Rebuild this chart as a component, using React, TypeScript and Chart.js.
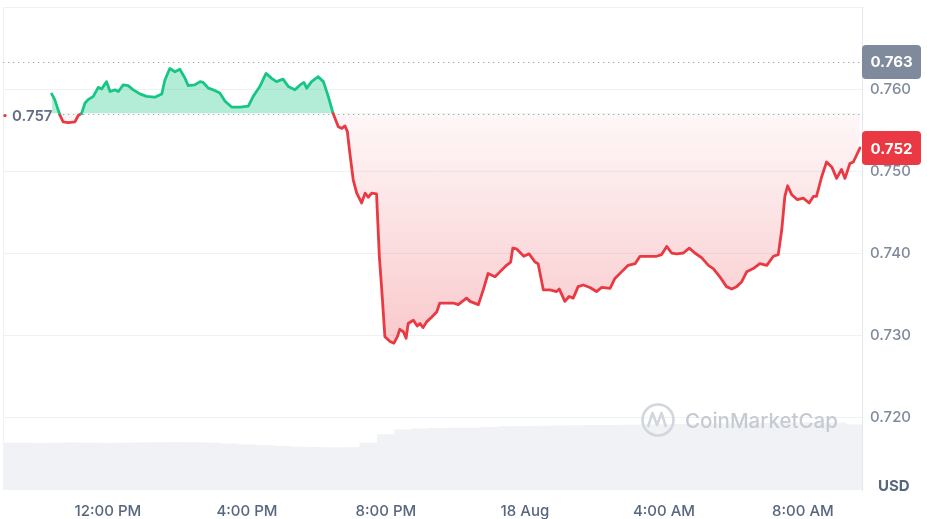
import React, { useEffect, useRef } from "react";
import { Chart, registerables } from "chart.js";

Chart.register(...registerables);

// price reference levels
const openPrice = 0.757;
const refPrice = 0.7633;

// hours since 17 Aug 00:00
const priceHours = [
  10.38, 10.47, 10.57, 10.62, 10.71, 10.86, 11.05, 11.15, 11.24, 11.34, 11.43, 11.58, 11.72, 11.82, 11.96,
  12.06, 12.2, 12.3, 12.44, 12.58, 12.73, 12.92, 13.11, 13.35, 13.55, 13.64, 13.78, 13.93, 14.07, 14.22,
  14.31, 14.5, 14.65, 14.74, 14.89, 15.03, 15.22, 15.37, 15.56, 15.8, 16.04, 16.18, 16.37, 16.55, 16.71,
  16.85, 17.04, 17.19, 17.38, 17.53, 17.64, 17.72, 17.86, 18.05, 18.2, 18.34, 18.48, 18.63, 18.73, 18.82,
  18.89, 18.96, 19.06, 19.16, 19.3, 19.4, 19.49, 19.59, 19.73, 19.81, 19.88, 19.97, 20.12, 20.23, 20.33,
  20.4, 20.5, 20.58, 20.64, 20.79, 20.9, 20.98, 21.07, 21.17, 21.32, 21.46, 21.55, 21.75, 21.94, 22.08,
  22.32, 22.42, 22.66, 22.8, 22.94, 23.14, 23.28, 23.47, 23.59, 23.65, 23.76, 23.97, 24.12, 24.29, 24.38,
  24.53, 24.72, 24.91, 24.99, 25.15, 25.27, 25.39, 25.53, 25.68, 25.87, 26.06, 26.21, 26.45, 26.59, 26.78,
  26.97, 27.17, 27.31, 27.5, 27.65, 27.79, 27.93, 28.08, 28.22, 28.37, 28.56, 28.73, 28.89, 29.09, 29.28,
  29.42, 29.61, 29.8, 29.95, 30.09, 30.24, 30.38, 30.57, 30.76, 30.96, 31.15, 31.29, 31.39, 31.48, 31.56,
  31.68, 31.84, 32.01, 32.18, 32.3, 32.39, 32.54, 32.68, 32.83, 32.97, 33.11, 33.21, 33.35, 33.45, 33.64,
];
const prices = [
  0.7594, 0.7587, 0.7574, 0.7568, 0.756, 0.7559, 0.756, 0.7568, 0.757, 0.7583, 0.7587, 0.7591, 0.7602, 0.76, 0.7609,
  0.7597, 0.7599, 0.7597, 0.7605, 0.7604, 0.7599, 0.7594, 0.7591, 0.759, 0.7594, 0.7611, 0.7625, 0.7621, 0.7624, 0.7613,
  0.7604, 0.7605, 0.7609, 0.7608, 0.7601, 0.7599, 0.7595, 0.7585, 0.7578, 0.7578, 0.7579, 0.7591, 0.7603, 0.7619, 0.7613,
  0.7609, 0.7612, 0.7603, 0.7599, 0.7605, 0.7608, 0.7601, 0.7609, 0.7615, 0.7609, 0.7591, 0.757, 0.7554, 0.7552, 0.7555,
  0.7548, 0.7522, 0.7489, 0.7473, 0.7461, 0.7473, 0.7468, 0.7473, 0.7472, 0.7396, 0.7355, 0.7298, 0.7292, 0.729, 0.7298,
  0.7307, 0.7304, 0.7296, 0.7314, 0.7318, 0.7311, 0.7314, 0.7309, 0.7316, 0.7322, 0.7328, 0.7339, 0.7339, 0.7339, 0.7337,
  0.7345, 0.7341, 0.7337, 0.7355, 0.7375, 0.7371, 0.7377, 0.7385, 0.7389, 0.7406, 0.7405, 0.7396, 0.7399, 0.7389, 0.7387,
  0.7355, 0.7355, 0.7353, 0.7356, 0.7341, 0.7347, 0.7345, 0.7359, 0.7361, 0.7358, 0.7353, 0.7358, 0.7357, 0.7369, 0.7377,
  0.7385, 0.7387, 0.7396, 0.7396, 0.7396, 0.7396, 0.7398, 0.7408, 0.74, 0.7399, 0.74, 0.7406, 0.74, 0.7394, 0.7385,
  0.7381, 0.7371, 0.7359, 0.7356, 0.7359, 0.7365, 0.7377, 0.7381, 0.7387, 0.7385, 0.7396, 0.7398, 0.7428, 0.7469, 0.7482,
  0.7471, 0.7465, 0.7467, 0.7461, 0.7469, 0.7469, 0.7493, 0.7511, 0.7505, 0.7491, 0.7502, 0.7491, 0.7509, 0.7511, 0.7528,
];

// 24h volume (millions USD), half-hour bars
const volumeHours = [
  9, 9.5, 10, 10.5, 11, 11.5, 12, 12.5, 13, 13.5, 14, 14.5, 15, 15.5, 16, 16.5, 17, 17.5, 18, 18.5, 19, 19.5, 20, 20.5, 21,
  21.5, 22, 22.5, 23, 23.5, 24, 24.5, 25, 25.5, 26, 26.5, 27, 27.5, 28, 28.5, 29, 29.5, 30, 30.5, 31, 31.5, 32, 32.5, 33, 33.5,
];
const volumes = [
  38.9, 39.0, 38.8, 38.9, 39.1, 39.0, 38.8, 39.0, 39.2, 39.3, 39.5, 39.3, 39.0, 38.2, 37.5, 37.0, 36.2, 35.6, 35.3, 35.0,
  35.2, 39.0, 46.0, 49.8, 50.6, 51.0, 51.2, 51.3, 52.0, 52.6, 52.8, 53.0, 53.2, 53.3, 53.5, 53.6, 53.8, 54.0, 54.2, 54.3,
  54.6, 54.8, 55.0, 55.2, 55.3, 55.5, 55.6, 55.5, 55.4, 54.0,
];

const tickHours = [12, 16, 20, 24, 28, 32];
const tickLabels = ["12:00 PM", "4:00 PM", "8:00 PM", "18 Aug", "4:00 AM", "8:00 AM"];
const priceTicks = [0.72, 0.73, 0.74, 0.75, 0.76];
const priceMin = 0.7111;
const priceMax = 0.77;

const GREEN = "#16c784";
const RED = "#ea3943";
const FONT = "Inter, 'Noto Sans', sans-serif";

const badge = (ctx: CanvasRenderingContext2D, x: number, y: number, text: string, color: string) => {
  const w = 59;
  const h = 34;
  ctx.save();
  ctx.fillStyle = color;
  ctx.beginPath();
  ctx.roundRect(x, y - h / 2, w, h, 4);
  ctx.fill();
  ctx.fillStyle = "#fff";
  ctx.font = `700 15px ${FONT}`;
  ctx.textAlign = "center";
  ctx.textBaseline = "middle";
  ctx.fillText(text, x + w / 2, y + 1);
  ctx.restore();
};

const overlay = {
  id: "overlay",
  beforeDatasetsDraw(chart: any) {
    const { ctx, chartArea, scales } = chart;
    ctx.save();
    // frame: top and left edges
    ctx.strokeStyle = "#eff2f5";
    ctx.lineWidth = 1;
    ctx.beginPath();
    ctx.moveTo(chartArea.left + 0.5, chartArea.bottom);
    ctx.lineTo(chartArea.left + 0.5, chartArea.top + 0.5);
    ctx.lineTo(chartArea.right, chartArea.top + 0.5);
    ctx.stroke();
    // dotted reference lines
    ctx.strokeStyle = "#9ea7b6";
    ctx.lineWidth = 1.2;
    ctx.setLineDash([1.3, 3.7]);
    const yRef = Math.round(scales.y.getPixelForValue(refPrice)) + 0.5;
    ctx.beginPath();
    ctx.moveTo(chartArea.left, yRef);
    ctx.lineTo(chartArea.right, yRef);
    ctx.stroke();
    const yOpen = Math.round(scales.y.getPixelForValue(openPrice)) + 0.5;
    ctx.beginPath();
    ctx.moveTo(58, yOpen);
    ctx.lineTo(chartArea.right, yOpen);
    ctx.stroke();
    ctx.restore();
  },
  afterDatasetsDraw(chart: any) {
    const { ctx } = chart;
    ctx.save();
    // watermark
    ctx.strokeStyle = "#d2d6dd";
    ctx.lineWidth = 2.6;
    ctx.beginPath();
    ctx.arc(658, 420, 15.5, 0, Math.PI * 2);
    ctx.stroke();
    ctx.lineJoin = "round";
    ctx.beginPath();
    ctx.moveTo(648, 427);
    ctx.lineTo(652.5, 413);
    ctx.lineTo(657, 425);
    ctx.lineTo(661.5, 413);
    ctx.lineTo(666, 427);
    ctx.stroke();
    ctx.fillStyle = "#c6cbd3";
    ctx.font = `500 20.5px ${FONT}`;
    ctx.textAlign = "left";
    ctx.textBaseline = "middle";
    ctx.fillText("CoinMarketCap", 685, 422);
    ctx.restore();
  },
  afterDraw(chart: any) {
    const { ctx, chartArea, scales } = chart;
    const y = scales.y;
    ctx.save();
    // open price label
    const yOpen = y.getPixelForValue(openPrice);
    ctx.fillStyle = RED;
    ctx.beginPath();
    ctx.arc(5, yOpen + 2, 1.7, 0, Math.PI * 2);
    ctx.fill();
    ctx.fillStyle = "#616e85";
    ctx.font = `600 15px ${FONT}`;
    ctx.textAlign = "left";
    ctx.textBaseline = "middle";
    ctx.fillText(openPrice.toFixed(3), 12, yOpen + 2.5);
    // currency
    ctx.fillStyle = "#58667e";
    ctx.font = `700 15px ${FONT}`;
    ctx.fillText("USD", 878, 486);
    ctx.restore();
    const last = prices[prices.length - 1];
    badge(ctx, chartArea.right, y.getPixelForValue(refPrice), refPrice.toFixed(3), "#808a9d");
    badge(ctx, chartArea.right, y.getPixelForValue(last), (Math.floor(last * 1000) / 1000).toFixed(3), RED);
  },
};

const noPadding = (s: any) => {
  s.paddingTop = 0;
  s.paddingBottom = 0;
  s.paddingLeft = 0;
  s.paddingRight = 0;
};

const App = () => {
  const canvasRef = useRef<HTMLCanvasElement>(null);

  useEffect(() => {
    const lowest = Math.min(...prices);
    const chart = new Chart(canvasRef.current!, {
      type: "line",
      data: {
        datasets: [
          {
            type: "line",
            data: priceHours.map((h, i) => ({ x: h, y: prices[i] })),
            yAxisID: "y",
            order: 0,
            borderWidth: 2.8,
            borderJoinStyle: "round",
            borderCapStyle: "round",
            pointRadius: 0,
            tension: 0,
            borderColor: RED,
            segment: {
              borderColor: (s: any) => ((s.p0.parsed.y + s.p1.parsed.y) / 2 >= openPrice ? GREEN : RED),
            },
            fill: { value: openPrice, above: "rgba(22,199,132,0.32)" },
            backgroundColor: (c: any) => {
              const { chart: ch } = c;
              if (!ch.chartArea || !ch.scales.y) return "rgba(234,57,67,0.1)";
              const g = ch.ctx.createLinearGradient(
                0,
                ch.scales.y.getPixelForValue(openPrice),
                0,
                ch.scales.y.getPixelForValue(lowest)
              );
              g.addColorStop(0, "rgba(234,57,67,0.04)");
              g.addColorStop(1, "rgba(234,57,67,0.27)");
              return g;
            },
          } as any,
          {
            type: "bar",
            data: volumeHours.map((h, i) => ({ x: h, y: volumes[i] })),
            yAxisID: "yv",
            order: 1,
            backgroundColor: "#f0f2f5",
            barPercentage: 1,
            categoryPercentage: 1,
          } as any,
        ],
      },
      options: {
        responsive: true,
        maintainAspectRatio: false,
        animation: false,
        layout: { padding: { left: 3, top: 7, right: 0, bottom: 0 } },
        plugins: { legend: { display: false }, tooltip: { enabled: false } },
        scales: {
          x: {
            type: "linear",
            min: 8.98,
            max: 33.7,
            offset: false,
            grid: { display: false, offset: false, drawTicks: false },
            border: { display: false },
            afterBuildTicks: (s: any) => {
              s.ticks = tickHours.map((v) => ({ value: v }));
            },
            afterFit: (s: any) => {
              s.height = 29;
              noPadding(s);
            },
            ticks: {
              autoSkip: false,
              maxRotation: 0,
              padding: 12,
              color: "#58667e",
              font: { family: FONT, size: 15, weight: 500 },
              callback: (v: any) => tickLabels[tickHours.indexOf(Number(v))] ?? "",
            },
          },
          y: {
            type: "linear",
            position: "right",
            min: priceMin,
            max: priceMax,
            grid: { color: "#eff2f5", drawTicks: false },
            border: { display: true, color: "#e3e6eb" },
            afterBuildTicks: (s: any) => {
              s.ticks = priceTicks.map((v) => ({ value: v }));
            },
            afterFit: (s: any) => {
              s.width = 65;
              noPadding(s);
            },
            ticks: {
              padding: 8,
              color: "#808a9d",
              font: { family: FONT, size: 15, weight: 500 },
              callback: (v: any) => Number(v).toFixed(3),
            },
          },
          yv: {
            type: "linear",
            display: false,
            min: 0,
            max: 400,
          },
        },
      },
      plugins: [overlay],
    });

    return () => {
      chart.destroy();
    };
  }, []);

  return (
    <div style={{ position: "absolute", left: 0, top: 0, width: 927, height: 519, background: "#fff" }}>
      <canvas ref={canvasRef} />
    </div>
  );
};

export default App;
